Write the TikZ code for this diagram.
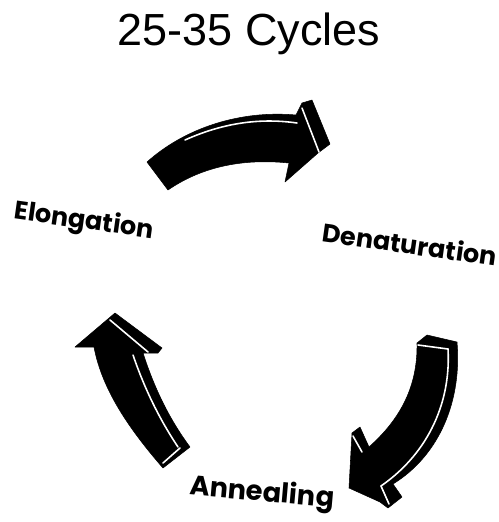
\documentclass[tikz,border=0pt]{standalone}
\usepackage{fontspec}
\setmainfont{Liberation Sans}
\newfontfamily\phasefont{Poppins}
\usepackage{tikz}
\usetikzlibrary{positioning}

\begin{document}
\begin{tikzpicture}[x=0.02cm,y=-0.02cm]
  \tikzset{phase/.style={font=\phasefont\bfseries\fontsize{14.5}{16}\selectfont,inner sep=0pt},
    bent/.style={fill=black,draw=black,line width=0.3pt,line join=round},
    edge3d/.style={draw=white,line width=0.9pt,line cap=round}}
  \useasboundingbox (0,0) rectangle (499,522);

  \node[font=\fontsize{25.6}{30}\selectfont] (title) at (249,34) {25-35 Cycles};

  \node[phase,rotate=-8] (elong) at (84,222) {Elongation};
  \node[phase,rotate=-8] (denat) at (410,244) {Denaturation};
  \node[phase,rotate=-5,font=\phasefont\bfseries\fontsize{15.5}{17}\selectfont] (anneal) at (262,494) {Annealing};

  % top arrow: elongation -> denaturation
  \path[bent] (147,162) .. controls (185,128) and (240,110) .. (296,115)
    -- (302,103) -- (312,100) -- (330,144) -- (318,153) -- (285,182) -- (289,163)
    .. controls (240,158) and (200,168) .. (168,190) -- cycle;
  \draw[edge3d] (185,140) .. controls (225,122) and (262,118) .. (297,123);
  \draw[edge3d] (302,108) -- (319,152);

  % right arrow: denaturation -> annealing
  \path[bent] (417,343) -- (427,335) -- (457,342)
    .. controls (462,400) and (440,455) .. (393,484)
    -- (402,497) -- (388,508) -- (380,502) -- (349,488) -- (352,433) -- (360,427)
    -- (369,447) .. controls (397,422) and (418,390) .. (417,343) -- cycle;
  \draw[edge3d] (418,345) -- (448,349);
  \draw[edge3d] (448,349) .. controls (451,400) and (430,452) .. (381,486);
  \draw[edge3d] (381,486) -- (389,504);
  \draw[edge3d] (353,436) -- (362,452);

  % left arrow: annealing -> elongation
  \path[bent] (163,468) .. controls (130,430) and (102,390) .. (94,347)
    -- (75,347) -- (115,313) -- (162,348) -- (158,353) -- (143,353)
    .. controls (155,390) and (170,420) .. (190,447) -- cycle;
  \draw[edge3d] (110,320) -- (148,352);
  \draw[edge3d] (133,355) .. controls (145,390) and (160,420) .. (178,447);
  \draw[edge3d] (163,463) -- (180,448);
\end{tikzpicture}
\end{document}
